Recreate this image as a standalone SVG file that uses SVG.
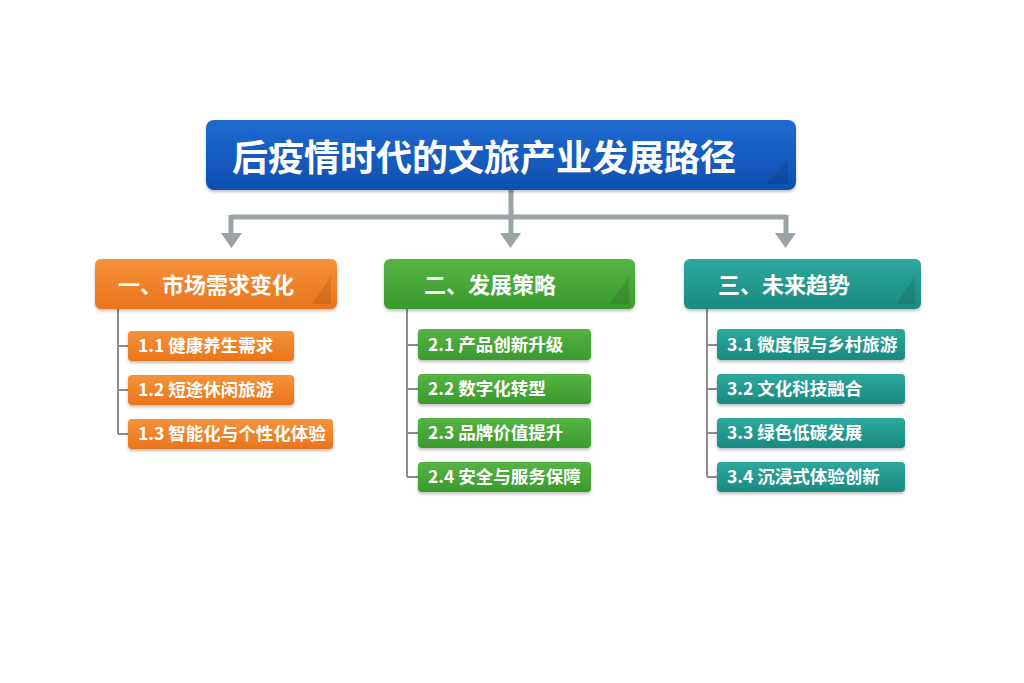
<svg xmlns="http://www.w3.org/2000/svg" width="1024" height="683" viewBox="0 0 1024 683">
<defs>
<linearGradient id="gBlue" x1="0" y1="0" x2="0" y2="1"><stop offset="0" stop-color="#1f6ad0"/><stop offset="1" stop-color="#0e4fb0"/></linearGradient>
<linearGradient id="gOrange" x1="0" y1="0" x2="0" y2="1"><stop offset="0" stop-color="#f6923a"/><stop offset="1" stop-color="#e9741c"/></linearGradient>
<linearGradient id="gGreen" x1="0" y1="0" x2="0" y2="1"><stop offset="0" stop-color="#55b444"/><stop offset="1" stop-color="#3a9a2d"/></linearGradient>
<linearGradient id="gTeal" x1="0" y1="0" x2="0" y2="1"><stop offset="0" stop-color="#2da99c"/><stop offset="1" stop-color="#1b8a7f"/></linearGradient>
<filter id="sh" x="-10%" y="-20%" width="120%" height="150%"><feDropShadow dx="0" dy="2" stdDeviation="1.5" flood-color="#000" flood-opacity="0.25"/></filter>
</defs>
<style>
text{font-family:"Noto Sans CJK SC","Liberation Sans",sans-serif;fill:#fff;font-weight:bold}
.title{font-size:36px}
.cat{font-size:22px}
.item{font-size:17.5px}
.main{stroke:#9aa3a6;stroke-width:5;fill:none}
.arrow{fill:#9aa3a6}
.tree{stroke:#8c8c8c;stroke-width:2;fill:none}
.tri{fill:#000;opacity:0.1}
</style>
<rect width="1024" height="683" fill="#fff"/>
<g id="connectors">
<path class="main" d="M511 190 V217 M231 217 H786 M231 215 V236 M511 217 V236 M786 215 V236"/>
<polygon class="arrow" points="221,233 242,233 231.5,248"/>
<polygon class="arrow" points="500,233 521,233 510.5,248"/>
<polygon class="arrow" points="775,233 796,233 785.5,248"/>
<path class="tree" d="M118 309 V434 M118 346 H128 M118 390 H128 M118 434 H128"/>
<path class="tree" d="M407 309 V477 M407 345 H418 M407 389 H418 M407 433 H418 M407 477 H418"/>
<path class="tree" d="M707 309 V477 M707 345 H717 M707 389 H717 M707 433 H717 M707 477 H717"/>
</g>
<g id="title">
<rect x="206" y="120" width="590" height="70" rx="8" fill="url(#gBlue)" filter="url(#sh)"/>
<polygon class="tri" points="788,160 788,184 766,184"/>
<text class="title" x="232" y="171">后疫情时代的文旅产业发展路径</text>
</g>
<g id="cat1">
<rect x="95" y="259" width="242" height="50" rx="6" fill="url(#gOrange)" filter="url(#sh)"/>
<polygon class="tri" points="331,276 331,304 312,304"/>
<text class="cat" x="118" y="293">一、市场需求变化</text>
</g>
<g id="cat2">
<rect x="384" y="259" width="251" height="50" rx="6" fill="url(#gGreen)" filter="url(#sh)"/>
<polygon class="tri" points="629,276 629,304 610,304"/>
<text class="cat" x="424" y="293">二、发展策略</text>
</g>
<g id="cat3">
<rect x="684" y="259" width="237" height="50" rx="6" fill="url(#gTeal)" filter="url(#sh)"/>
<polygon class="tri" points="915,276 915,304 896,304"/>
<text class="cat" x="718" y="293">三、未来趋势</text>
</g>
<g id="item1-1"><rect x="128" y="331" width="166" height="30" rx="4" fill="url(#gOrange)" filter="url(#sh)"/><text class="item" x="138" y="352">1.1 健康养生需求</text></g>
<g id="item1-2"><rect x="128" y="375" width="166" height="30" rx="4" fill="url(#gOrange)" filter="url(#sh)"/><text class="item" x="138" y="396">1.2 短途休闲旅游</text></g>
<g id="item1-3"><rect x="128" y="419" width="205" height="30" rx="4" fill="url(#gOrange)" filter="url(#sh)"/><text class="item" x="138" y="440">1.3 智能化与个性化体验</text></g>
<g id="item2-1"><rect x="418" y="329" width="173" height="31" rx="4" fill="url(#gGreen)" filter="url(#sh)"/><text class="item" x="428" y="351">2.1 产品创新升级</text></g>
<g id="item2-2"><rect x="418" y="374" width="173" height="30" rx="4" fill="url(#gGreen)" filter="url(#sh)"/><text class="item" x="428" y="395">2.2 数字化转型</text></g>
<g id="item2-3"><rect x="418" y="418" width="173" height="30" rx="4" fill="url(#gGreen)" filter="url(#sh)"/><text class="item" x="428" y="439">2.3 品牌价值提升</text></g>
<g id="item2-4"><rect x="418" y="462" width="173" height="30" rx="4" fill="url(#gGreen)" filter="url(#sh)"/><text class="item" x="428" y="483">2.4 安全与服务保障</text></g>
<g id="item3-1"><rect x="717" y="329" width="188" height="31" rx="4" fill="url(#gTeal)" filter="url(#sh)"/><text class="item" x="727" y="351">3.1 微度假与乡村旅游</text></g>
<g id="item3-2"><rect x="717" y="374" width="188" height="30" rx="4" fill="url(#gTeal)" filter="url(#sh)"/><text class="item" x="727" y="395">3.2 文化科技融合</text></g>
<g id="item3-3"><rect x="717" y="418" width="188" height="30" rx="4" fill="url(#gTeal)" filter="url(#sh)"/><text class="item" x="727" y="439">3.3 绿色低碳发展</text></g>
<g id="item3-4"><rect x="717" y="462" width="188" height="30" rx="4" fill="url(#gTeal)" filter="url(#sh)"/><text class="item" x="727" y="483">3.4 沉浸式体验创新</text></g>
</svg>
